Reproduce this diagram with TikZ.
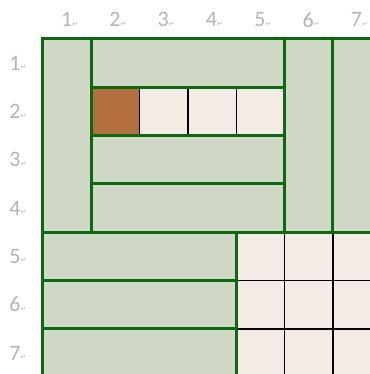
\documentclass[tikz,border=0pt]{standalone}
\usepackage{fontspec}
\setmainfont{Carlito}
\newfontfamily\symfont{DejaVu Sans}
\definecolor{sage}{HTML}{D0D9C5}
\definecolor{leaf}{HTML}{0B690E}
\definecolor{blush}{HTML}{F4EAE6}
\definecolor{rust}{HTML}{B46F40}
\definecolor{numgray}{HTML}{B4B4B4}
\newcommand{\parmark}{{\symfont\fontsize{7pt}{7pt}\selectfont\raisebox{0.5pt}{↵}}}
\tikzset{
  greenbox/.style={fill=sage, draw=leaf, line width=3pt},
  pinkcell/.style={fill=blush, draw=black, line width=1.4pt},
  browncell/.style={fill=rust, draw=black, line width=1.4pt},
  numlabel/.style={text=numgray, font=\fontsize{22pt}{22pt}\selectfont, inner sep=0pt}
}
\begin{document}
\begin{tikzpicture}[x=48.3pt, y=-48.3pt]
    \useasboundingbox (-43pt,39pt) rectangle (326pt,-335pt);
    % labels
    \foreach \i in {1,...,7} {
        \node[numlabel] (c\i) at (\i-0.45,-0.4) {\i\parmark};
        \node[numlabel] (r\i) at (-0.52,\i-0.5) {\i\parmark};
    }
    % small cells
    \draw[browncell] (1,1) rectangle (2,2);
    \foreach \i in {3,4,5}
        \draw[pinkcell] (\i-1,1) rectangle (\i,2);
    \foreach \i in {5,6,7}
        \foreach \j in {5,6,7}
            \draw[pinkcell] (\i-1,\j-1) rectangle (\i,\j);
    % green blocks
    \draw[greenbox] (0,0) rectangle (1,4);
    \draw[greenbox] (1,0) rectangle (5,1);
    \draw[leaf, line width=3pt] (1,1) rectangle (5,2);
    \draw[greenbox] (1,2) rectangle (5,3);
    \draw[greenbox] (1,3) rectangle (5,4);
    \draw[greenbox] (5,0) rectangle (6,4);
    \draw[greenbox] (6,0) rectangle (7,4);
    \foreach \j in {5,6,7}
        \draw[greenbox] (0,\j-1) rectangle (4,\j);
\end{tikzpicture}
\end{document}
